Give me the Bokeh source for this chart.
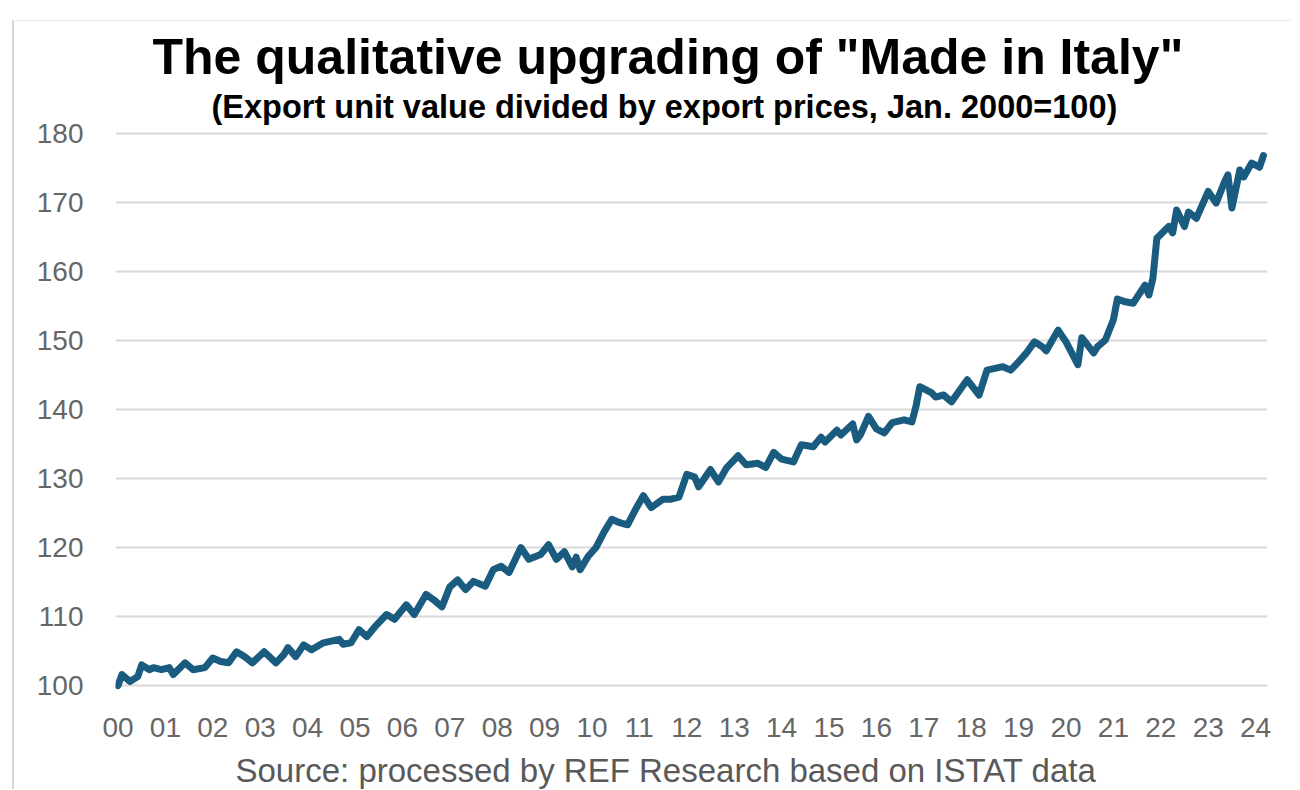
from bokeh.plotting import figure
from bokeh.models import FixedTicker, Range1d, Title
from bokeh.embed import file_html
from bokeh.resources import INLINE

# ---- data ----
months = [
    "2000-01", "2000-02", "2000-04", "2000-06", "2000-07", "2000-09", "2000-10", "2000-12",
    "2001-02", "2001-03", "2001-06", "2001-08", "2001-11",
    "2002-01", "2002-03", "2002-05", "2002-07", "2002-09", "2002-11",
    "2003-02", "2003-05", "2003-07", "2003-08", "2003-10", "2003-12",
    "2004-02", "2004-05", "2004-09", "2004-10", "2004-12",
    "2005-02", "2005-04", "2005-06", "2005-09", "2005-11",
    "2006-02", "2006-04", "2006-07", "2006-09", "2006-11",
    "2007-01", "2007-03", "2007-05", "2007-07", "2007-10", "2007-12",
    "2008-02", "2008-04", "2008-07", "2008-09", "2008-12",
    "2009-02", "2009-04", "2009-06", "2009-08", "2009-09", "2009-10", "2009-12",
    "2010-02", "2010-04", "2010-06", "2010-08", "2010-10", "2010-12",
    "2011-02", "2011-04", "2011-07", "2011-09", "2011-11",
    "2012-01", "2012-03", "2012-04", "2012-07", "2012-09", "2012-11",
    "2013-02", "2013-04", "2013-07", "2013-09", "2013-11",
    "2014-01", "2014-04", "2014-06", "2014-09", "2014-11", "2014-12",
    "2015-03", "2015-04", "2015-07", "2015-08", "2015-09", "2015-11",
    "2016-01", "2016-03", "2016-05", "2016-08", "2016-10", "2016-11", "2016-12",
    "2017-03", "2017-04", "2017-06", "2017-08", "2017-12",
    "2018-03", "2018-05", "2018-09", "2018-11",
    "2019-01", "2019-03", "2019-05", "2019-07", "2019-08", "2019-11",
    "2020-01", "2020-04", "2020-05", "2020-08", "2020-09", "2020-11",
    "2021-01", "2021-02", "2021-04", "2021-06", "2021-09", "2021-10", "2021-11", "2021-12",
    "2022-03", "2022-04", "2022-05", "2022-07", "2022-08", "2022-10",
    "2023-01", "2023-03", "2023-05", "2023-06", "2023-07", "2023-09", "2023-10", "2023-12",
    "2024-02", "2024-03",
]
values = [
    100.0, 101.6, 100.6, 101.3, 103.0, 102.3, 102.6, 102.3,
    102.6, 101.6, 103.3, 102.3, 102.6,
    104.0, 103.5, 103.3, 104.9, 104.2, 103.3,
    104.9, 103.3, 104.5, 105.5, 104.2, 105.9,
    105.2, 106.2, 106.7, 106.0, 106.2,
    108.1, 107.1, 108.5, 110.3, 109.6,
    111.7, 110.3, 113.2, 112.4, 111.4,
    114.3, 115.3, 113.9, 115.1, 114.4, 116.8,
    117.3, 116.4, 120.0, 118.3, 119.0,
    120.4, 118.3, 119.4, 117.2, 118.6, 116.8, 118.7,
    120.0, 122.2, 124.1, 123.6, 123.3, 125.5,
    127.5, 125.8, 127.0, 127.0, 127.3,
    130.6, 130.2, 128.8, 131.3, 129.5, 131.5,
    133.3, 132.0, 132.2, 131.6, 133.8,
    132.8, 132.4, 134.9, 134.6, 136.0, 135.3,
    137.0, 136.3, 137.9, 135.6, 136.4, 139.0,
    137.2, 136.6, 138.1, 138.5, 138.2, 140.4, 143.3,
    142.4, 141.8, 142.1, 141.1, 144.3,
    142.1, 145.7, 146.2, 145.7,
    146.9, 148.2, 149.8, 149.1, 148.5, 151.5,
    149.8, 146.5, 150.4, 148.2, 149.1, 150.1,
    153.0, 156.0, 155.6, 155.4, 158.0, 156.6, 159.0, 164.8,
    166.5, 165.6, 168.9, 166.5, 168.6, 167.7,
    171.6, 169.9, 172.8, 174.0, 169.2, 174.7, 173.7, 175.7,
    175.1, 176.8,
]
tick_years = list(range(2000, 2025))
tick_labels = ["%02d" % (y - 2000) for y in tick_years]
y_ticks = [100, 110, 120, 130, 140, 150, 160, 170, 180]

title_text = 'The qualitative upgrading of "Made in Italy"'
subtitle_text = "(Export unit value divided by export prices, Jan. 2000=100)"
source_text = "Source: processed by REF Research based on ISTAT data"

x_vals = [int(m[:4]) + (int(m[5:7]) - 1) / 12.0 for m in months]

# ---- layout ----
W, H = 1280, 769
BL, BR, BT, BB = 101, 27, 105, 98
frame_w = W - BL - BR
px_per_year = 47.4
x0 = 2000 - 2.5 / px_per_year
x1 = x0 + frame_w / px_per_year
y0, y1 = 99.0, 181.0

p = figure(width=W, height=H, output_backend="svg", toolbar_location=None,
           x_range=Range1d(x0, x1), y_range=Range1d(y0, y1),
           min_border_left=BL, min_border_right=BR, min_border_top=BT, min_border_bottom=BB,
           margin=(20, 0, 0, 12),
           styles={"border-left": "2px solid #d6d6d6", "border-top": "1px solid #ececec"})
p.outline_line_color = None
p.background_fill_color = "white"
p.border_fill_color = "white"

p.xgrid.grid_line_color = None
p.ygrid.grid_line_color = "#d9d9d9"
p.ygrid.grid_line_width = 2

p.yaxis.ticker = FixedTicker(ticks=y_ticks)
p.xaxis.ticker = FixedTicker(ticks=tick_years)
p.xaxis.major_label_overrides = {y: l for y, l in zip(tick_years, tick_labels)}

for ax in (p.xaxis[0], p.yaxis[0]):
    ax.axis_line_color = None
    ax.major_tick_line_color = None
    ax.minor_tick_line_color = None
    ax.major_tick_in = 0
    ax.major_tick_out = 0
    ax.major_label_text_font = "Liberation Sans"
    ax.major_label_text_font_size = "28px"
    ax.major_label_text_color = "#666666"
p.yaxis.major_label_standoff = 32
p.xaxis.major_label_standoff = 25
# invisible spacer label under the x tick labels (pushes the source note lower)
p.xaxis.axis_label = " "
p.xaxis.axis_label_text_font_size = "1px"
p.xaxis.axis_label_standoff = 8

p.line(x_vals, values, line_color="#1a5b80", line_width=7, line_join="round", line_cap="round")

# titles (nearest the frame first) and source note
p.add_layout(Title(text=subtitle_text, align="left", offset=96, standoff=4,
                   vertical_align="bottom", text_font="Liberation Sans",
                   text_font_style="bold", text_font_size="32.5px", text_color="#000000"), "above")
p.add_layout(Title(text=title_text, align="left", offset=37, standoff=0,
                   vertical_align="bottom", text_font="Liberation Sans",
                   text_font_style="bold", text_font_size="50px", text_color="#000000"), "above")
p.add_layout(Title(text=source_text, align="left", offset=120, standoff=0,
                   vertical_align="top", text_font="Liberation Sans",
                   text_font_style="normal", text_font_size="33px", text_color="#595959"), "below")

open("out.html", "w").write(file_html(p, INLINE))
